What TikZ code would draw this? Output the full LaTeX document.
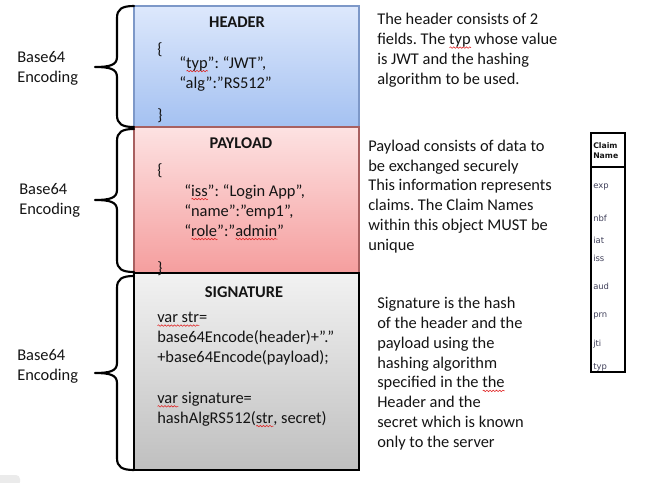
\documentclass[tikz,border=0pt]{standalone}
\usepackage{fontspec}
\setmainfont{Carlito}
\newfontfamily\claimfont{DejaVu Sans}
\usetikzlibrary{decorations.pathmorphing}
\frenchspacing
\definecolor{hdtop}{HTML}{DDE8FC}
\definecolor{hdbot}{HTML}{A4C1F1}
\definecolor{hdline}{HTML}{7D98C8}
\definecolor{pltop}{HTML}{FDE2E2}
\definecolor{plbot}{HTML}{F59E9E}
\definecolor{plline}{HTML}{A86060}
\definecolor{sgtop}{HTML}{F2F2F2}
\definecolor{sgbot}{HTML}{BFBFBF}
\definecolor{spellred}{HTML}{E02828}
\definecolor{ink}{HTML}{141414}
\definecolor{claimink}{HTML}{40405A}
% red wavy underline, as a spell checker marks a word
\newsavebox\spellbox
\newlength\spellwd
\newcommand\spell[1]{\sbox\spellbox{#1}\setlength\spellwd{\wd\spellbox}%
  \makebox[0pt][l]{\tikz[baseline=0pt,x=1pt,y=1pt]{\draw[spellred,line width=0.45pt,
    decorate,decoration={snake,amplitude=0.55pt,segment length=2.4pt}]
    (0pt,-2.3pt) -- (\spellwd,-2.3pt);}}\usebox\spellbox}
% curly brace: top y, middle y, bottom y
\newcommand\encbrace[3]{%
  \draw[bracestroke] (134,#1) .. controls (122,#1) and (117,#1+3) .. (117,#1+12)
    -- (117,#2-10) .. controls (117,#2-2) and (110,#2) .. (95,#2)
    .. controls (110,#2) and (117,#2+2) .. (117,#2+10)
    -- (117,#3-12) .. controls (117,#3-3) and (122,#3) .. (134,#3);}
\begin{document}
% multi-line nodes are placed by the baseline of their last line
\begin{tikzpicture}[x=0.75pt,y=-0.75pt,
  bracestroke/.style={line width=1.6pt,black,line cap=round,line join=round},
  body/.style={font=\fontsize{12.3}{14.8}\selectfont,text=ink,inner sep=0pt,align=left,anchor=base west},
  title/.style={font=\fontsize{12.3}{14.8}\selectfont\bfseries,text=ink,inner sep=0pt,anchor=base},
  claimitem/.style={font=\claimfont\fontsize{6.3}{7}\selectfont,text=claimink,inner sep=0pt,anchor=base west},
  claimhead/.style={font=\claimfont\bfseries\fontsize{5.8}{7}\selectfont,text=ink,inner sep=0pt,align=left,anchor=base west}]
\useasboundingbox (0,0) rectangle (646,482);

% the three parts of the token
\fill[top color=hdtop,bottom color=hdbot] (134,6) rectangle (359,127);
\draw[hdline,line width=0.8pt] (134,6) rectangle (359,127);
\fill[top color=pltop,bottom color=plbot] (134,127) rectangle (359,273);
\draw[plline,line width=0.8pt] (134,127) rectangle (359,273);
\fill[top color=sgtop,bottom color=sgbot] (134,273) rectangle (359,470);
\draw[black,line width=1pt] (134,273) rectangle (359,470);

% braces and their labels
\encbrace{6}{67}{127}
\encbrace{129}{200}{272}
\encbrace{276}{373}{470}
\node[body] (enc1) at (17,82) {Base64\\Encoding};
\node[body] (enc2) at (19,214) {Base64\\Encoding};
\node[body] (enc3) at (17,380) {Base64\\Encoding};

% header
\node[title] (hdr) at (237,27) {HEADER};
\node[body] (hdrob) at (157,54) {\{};
\node[body] (hdrtyp) at (179,68) {“\spell{typ}”: “JWT”,};
\node[body] (hdralg) at (179,88) {“alg”:”RS512”};
\node[body] (hdrcb) at (157,120) {\}};

% payload
\node[title] (pay) at (241,148) {PAYLOAD};
\node[body] (payob) at (157,175) {\{};
\node[body] (payiss) at (184,196) {“\spell{iss}”: “Login App”,};
\node[body] (payname) at (184,216) {“name”:”emp1”,};
\node[body] (payrole) at (184,236) {“\spell{role}”:”\spell{admin}”};
\node[body] (paycb) at (157,273) {\}};

% signature
\node[title] (sig) at (244,297) {SIGNATURE};
\node[body] (sigstr) at (157,362) {\spell{var str}=\\base64Encode(header)+”.”\\+base64Encode(payload);};
\node[body] (sigvar) at (157,423) {\spell{var} signature=\\hashAlgRS512(\spell{str}, secret)};

% descriptions
\node[body] (hdrtxt) at (377,84) {The header consists of 2\\fields. The \spell{typ} whose value\\is JWT and the hashing\\algorithm to be used.};
\node[body] (paytxt) at (368,250) {Payload consists of data to\\be exchanged securely\\This information represents\\claims. The Claim Names\\within this object MUST be\\unique};
\node[body] (sigtxt) at (377,447) {Signature is the hash\\of the header and the\\payload using the\\hashing algorithm\\specified in the \spell{the}\\Header and the\\secret which is known\\only to the server};

% registered claim names
\draw[black,line width=1.1pt] (591,133) rectangle (625,372);
\draw[black,line width=1.1pt] (591,167) -- (625,167);
\node[claimhead] (claimhd) at (593,158) {Claim\\Name};
\node[claimitem] (cexp) at (593,188) {exp};
\node[claimitem] (cnbf) at (593,221.5) {nbf};
\node[claimitem] (ciat) at (593,243) {iat};
\node[claimitem] (ciss) at (593,261.5) {iss};
\node[claimitem] (caud) at (593,289) {aud};
\node[claimitem] (cprn) at (593,317) {prn};
\node[claimitem] (cjti) at (593,346) {jti};
\node[claimitem] (ctyp) at (593,369) {typ};

% grey tab in the lower left corner
\fill[black!8,rounded corners=3pt] (-4,475) rectangle (20,486);
\end{tikzpicture}
\end{document}
